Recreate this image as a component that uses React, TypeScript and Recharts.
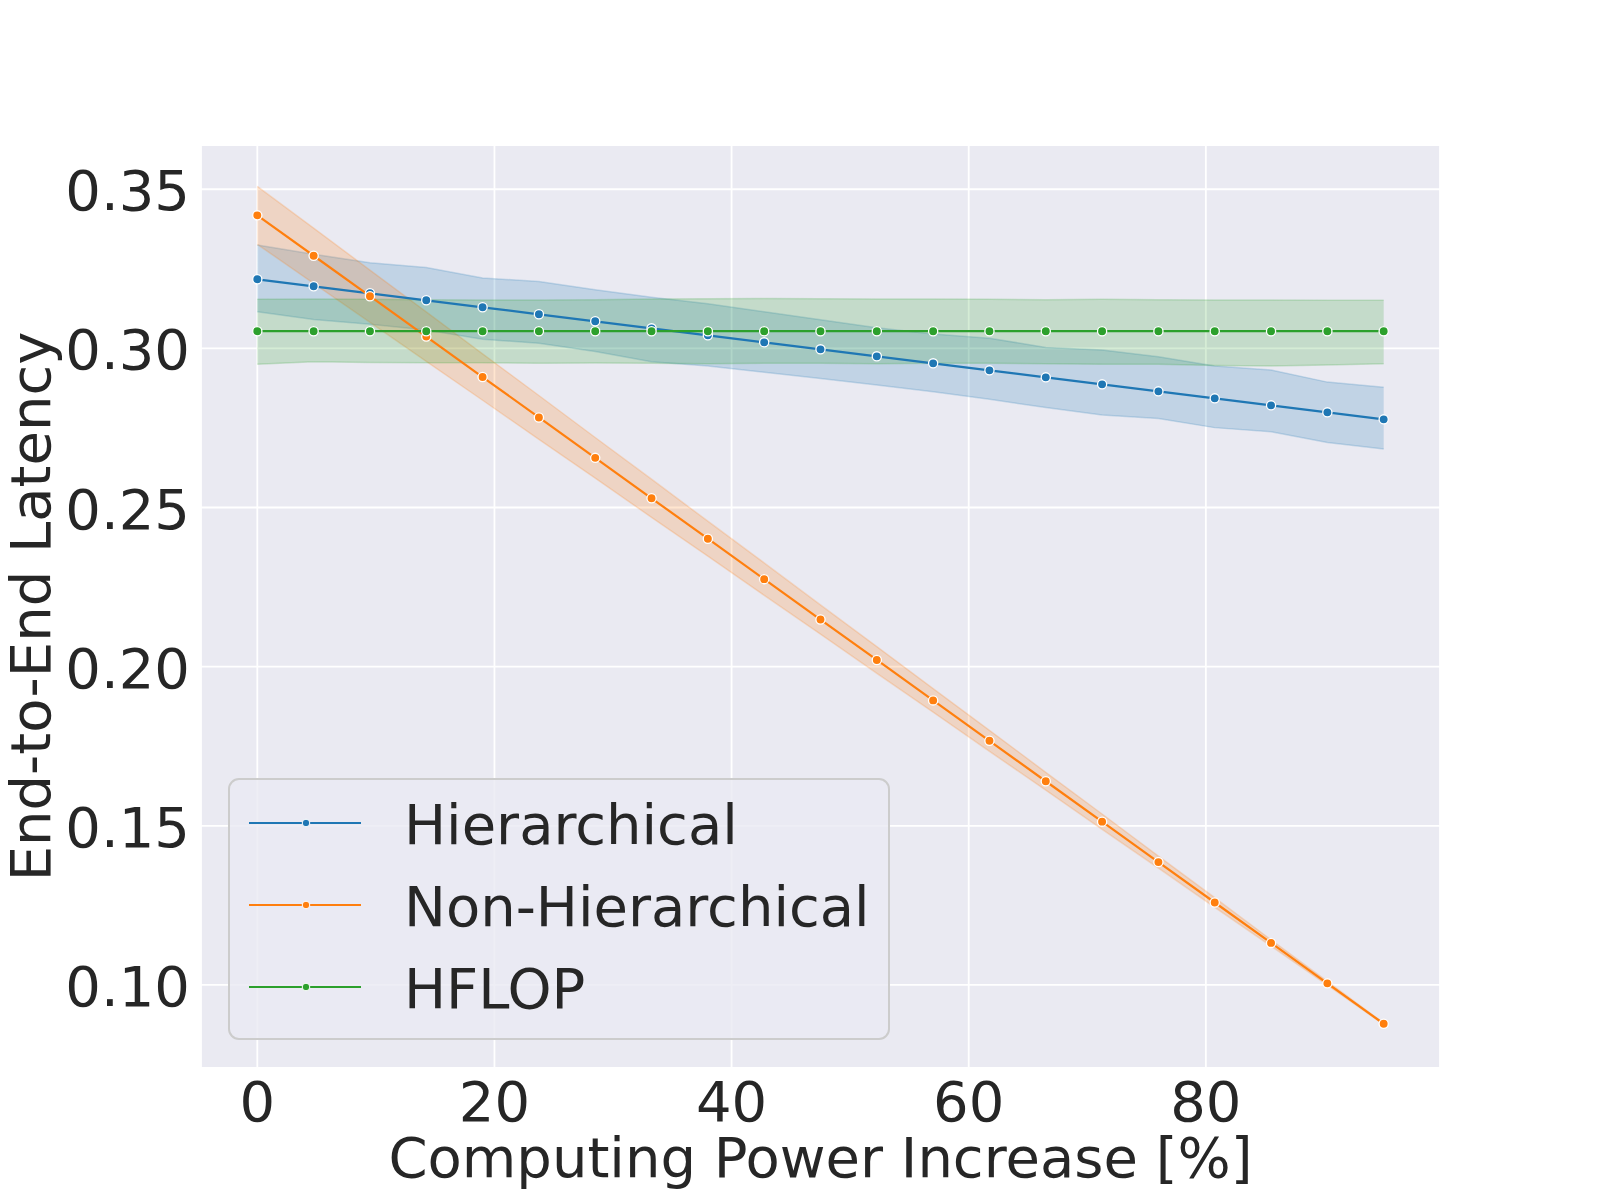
import React from 'react'
import { ComposedChart, Line, Area, XAxis, YAxis, CartesianGrid, Legend, Label } from 'recharts'

const FONT = '"DejaVu Sans", sans-serif'
const TEXT = '#262626'

// computing power increase [%]
const xValues = [0, 4.75, 9.5, 14.25, 19, 23.75, 28.5, 33.25, 38, 42.75, 47.5, 52.25, 57, 61.75, 66.5, 71.25, 76, 80.75, 85.5, 90.25, 95]

// Hierarchical
const hierMean = [0.3217, 0.3195, 0.3173, 0.3151, 0.3129, 0.3107, 0.3085, 0.3063, 0.3041, 0.3019, 0.2997, 0.2975, 0.2953, 0.2931, 0.2909, 0.2887, 0.2865, 0.2843, 0.2821, 0.2799, 0.2777]
const hierLow = [0.3115, 0.3091, 0.3076, 0.3058, 0.3029, 0.3016, 0.2990, 0.2958, 0.2945, 0.2925, 0.2905, 0.2885, 0.2864, 0.2840, 0.2814, 0.2791, 0.2780, 0.2751, 0.2738, 0.2704, 0.2684]
const hierHigh = [0.3325, 0.3296, 0.3269, 0.3254, 0.3221, 0.3210, 0.3184, 0.3161, 0.3140, 0.3115, 0.3090, 0.3065, 0.3045, 0.3032, 0.3003, 0.2995, 0.2974, 0.2945, 0.2932, 0.2894, 0.2878]

// Non-Hierarchical
const nonMean = [0.3418, 0.3291, 0.3164, 0.3037, 0.2910, 0.2783, 0.2656, 0.2529, 0.2402, 0.2275, 0.2148, 0.2021, 0.1894, 0.1767, 0.1640, 0.1513, 0.1386, 0.1259, 0.1132, 0.1005, 0.0878]
const nonLow = [0.3327, 0.3204, 0.3082, 0.2959, 0.2837, 0.2714, 0.2592, 0.2469, 0.2347, 0.2224, 0.2102, 0.1979, 0.1857, 0.1734, 0.1612, 0.1489, 0.1367, 0.1244, 0.1122, 0.0999, 0.0876]
const nonHigh = [0.3509, 0.3378, 0.3246, 0.3115, 0.2983, 0.2852, 0.2720, 0.2589, 0.2457, 0.2326, 0.2194, 0.2063, 0.1931, 0.1800, 0.1668, 0.1537, 0.1405, 0.1274, 0.1142, 0.1011, 0.0880]

// HFLOP
const hflopMean = [0.3054, 0.3054, 0.3054, 0.3054, 0.3054, 0.3054, 0.3054, 0.3054, 0.3054, 0.3054, 0.3054, 0.3054, 0.3054, 0.3054, 0.3054, 0.3054, 0.3054, 0.3054, 0.3054, 0.3054, 0.3054]
const hflopLow = [0.2950, 0.2958, 0.2956, 0.2955, 0.2955, 0.2953, 0.2954, 0.2953, 0.2952, 0.2953, 0.2953, 0.2952, 0.2953, 0.2953, 0.2952, 0.2950, 0.2950, 0.2946, 0.2945, 0.2948, 0.2952]
const hflopHigh = [0.3154, 0.3155, 0.3154, 0.3153, 0.3152, 0.3152, 0.3153, 0.3155, 0.3156, 0.3157, 0.3156, 0.3155, 0.3155, 0.3154, 0.3153, 0.3154, 0.3153, 0.3152, 0.3152, 0.3151, 0.3151]

const xTicks = [0, 20, 40, 60, 80]
const yTicks = [0.1, 0.15, 0.2, 0.25, 0.3, 0.35]

const series = [
  { key: 'hier', band: 'hierBand', name: 'Hierarchical', color: '#1f77b4' },
  { key: 'non', band: 'nonBand', name: 'Non-Hierarchical', color: '#ff7f0e' },
  { key: 'hflop', band: 'hflopBand', name: 'HFLOP', color: '#2ca02c' },
]

const data = xValues.map((x, i) => ({
  x,
  hier: hierMean[i],
  hierBand: [hierLow[i], hierHigh[i]],
  non: nonMean[i],
  nonBand: [nonLow[i], nonHigh[i]],
  hflop: hflopMean[i],
  hflopBand: [hflopLow[i], hflopHigh[i]],
}))

const XTick = (props: any) => {
  const { x, payload } = props
  return (
    <text x={x} y={1121} textAnchor="middle" fontSize={56} fill={TEXT} fontFamily={FONT}>
      {payload.value}
    </text>
  )
}

const YTick = (props: any) => {
  const { y, payload } = props
  return (
    <text x={190} y={y} dy={21} textAnchor="end" fontSize={56} fill={TEXT} fontFamily={FONT}>
      {Number(payload.value).toFixed(2)}
    </text>
  )
}

const LegendBox = () => (
  <svg width={662} height={262} style={{ display: 'block' }}>
    <rect x={1} y={1} width={660} height={260} rx={10} ry={10} fill="#EAEAF2" fillOpacity={0.8} stroke="#CCCCCC" strokeWidth={2} />
    {series.map((s, i) => {
      const cy = 45 + i * 82
      return (
        <g key={s.key}>
          <line x1={21} x2={133} y1={cy} y2={cy} stroke={s.color} strokeWidth={2.2} />
          <circle cx={78} cy={cy} r={3.8} fill={s.color} stroke="#ffffff" strokeWidth={1} />
          <text x={176} y={cy + 21} fontSize={56} fill={TEXT} fontFamily={FONT}>{s.name}</text>
        </g>
      )
    })}
  </svg>
)

const App = () => {
  return (
    <div>
      <style>{'body{margin:0;background:#ffffff}'}</style>
      <ComposedChart
        width={1600}
        height={1200}
        data={data}
        margin={{ top: 145, right: 160, bottom: 0, left: 0 }}
      >
        <CartesianGrid fill="#EAEAF2" stroke="#ffffff" strokeWidth={1.8} />
        <XAxis
          dataKey="x"
          type="number"
          domain={[-4.75, 99.75]}
          ticks={xTicks}
          allowDataOverflow
          height={132}
          axisLine={false}
          tickLine={false}
          tickSize={0}
          tickMargin={0}
          tick={<XTick />}
        >
          <Label
            content={(p: any) => {
              const vb = p.viewBox
              return (
                <text x={vb.x + vb.width / 2} y={vb.y + 109} textAnchor="middle" fontSize={56} fill={TEXT} fontFamily={FONT}>
                  Computing Power Increase [%]
                </text>
              )
            }}
          />
        </XAxis>
        <YAxis
          type="number"
          domain={[0.0739, 0.3639]}
          ticks={yTicks}
          allowDataOverflow
          width={201}
          axisLine={false}
          tickLine={false}
          tickSize={0}
          tickMargin={0}
          tick={<YTick />}
        >
          <Label
            content={(p: any) => {
              const vb = p.viewBox
              const cx = vb.x + 50
              const cy = vb.y + vb.height / 2
              return (
                <text x={cx} y={cy} transform={`rotate(-90, ${cx}, ${cy})`} textAnchor="middle" fontSize={56} fill={TEXT} fontFamily={FONT}>
                  End-to-End Latency
                </text>
              )
            }}
          />
        </YAxis>
        {series.map((s) => [
          <Line
            key={s.key}
            dataKey={s.key}
            name={s.name}
            stroke={s.color}
            strokeWidth={2.2}
            dot={{ r: 4.6, fill: s.color, stroke: '#ffffff', strokeWidth: 1.3 }}
            activeDot={false}
            isAnimationActive={false}
          />,
          <Area
            key={s.band}
            dataKey={s.band}
            fill={s.color}
            fillOpacity={0.2}
            stroke={s.color}
            strokeOpacity={0.2}
            strokeWidth={1.5}
            legendType="none"
            activeDot={false}
            isAnimationActive={false}
          />,
        ])}
        <Legend
          layout="horizontal"
          verticalAlign="middle"
          align="center"
          wrapperStyle={{ left: 228, top: 778, width: 662, height: 262 }}
          content={() => <LegendBox />}
        />
      </ComposedChart>
    </div>
  )
}

export default App
